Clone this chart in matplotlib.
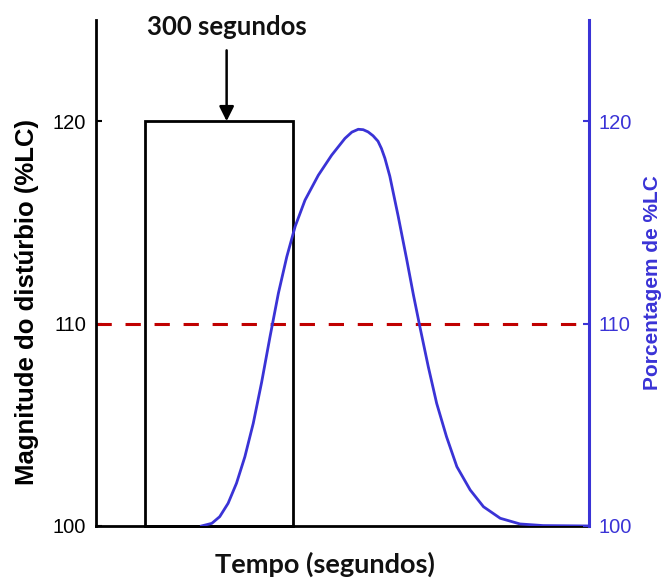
import matplotlib
matplotlib.use("Agg")
import matplotlib.pyplot as plt
from matplotlib.patches import Rectangle

plt.rcParams['font.family'] = ['Liberation Sans', 'DejaVu Sans']

# ---- dados ----
# pulso de distúrbio (s) e magnitude (%LC)
pulse_start = 100
pulse_end = 400
pulse_level = 120
baseline = 100
limit_level = 110
arrow_x = 265

# resposta (%LC) ao longo do tempo (s)
resp_t = [214, 235, 251, 268, 285, 302, 319, 336, 353, 370, 387, 404, 424, 451, 478,
          505, 519, 532, 542, 552, 562, 572, 579, 586, 596, 613, 630, 644, 657, 674, 691,
          711, 732, 759, 786, 820, 860, 907, 1000]
resp_y = [100.0, 100.13, 100.46, 101.12, 102.11, 103.42, 105.07, 107.1, 109.35, 111.5,
          113.3, 114.8, 116.10, 117.33, 118.32, 119.15, 119.46, 119.60, 119.58, 119.47,
          119.28, 119.01, 118.65, 118.17, 117.28, 115.3, 113.2, 111.4, 109.84, 107.87,
          106.06, 104.41, 102.93, 101.78, 100.95, 100.38, 100.10, 100.02, 100.0]

yticks = [100, 110, 120]
t_max = 1000
y_max = 125

BLACK = '#000000'
BLUE = '#3a33d6'
RED = '#c00000'
TITLE_FONT = 'Lato'

fig = plt.figure(figsize=(6.66, 5.81), dpi=100)
ax = fig.add_axes([0.1441, 0.0947, 0.7403, 0.8709])
ax2 = ax.twinx()

for a in (ax, ax2):
    a.set_xlim(0, t_max)
    a.set_ylim(baseline, y_max)
    a.spines['top'].set_visible(False)
    a.set_yticks(yticks)
    a.set_xticks([])

ax.spines['right'].set_visible(False)
ax2.spines['left'].set_visible(False)
ax2.spines['bottom'].set_visible(False)
for s in ('left', 'bottom'):
    ax.spines[s].set_linewidth(2)
    ax.spines[s].set_color(BLACK)
ax2.spines['right'].set_linewidth(2.2)
ax2.spines['right'].set_color(BLUE)

ax.tick_params(axis='y', direction='in', length=4, width=1.5, colors=BLACK, pad=7,
               labelsize=14.5)
ax2.tick_params(axis='y', direction='in', length=4, width=1.5, colors=BLUE, pad=7,
                labelsize=14.5)

# pulso retangular
ax.add_patch(Rectangle((pulse_start, baseline), pulse_end - pulse_start,
                       pulse_level - baseline, fill=False, edgecolor=BLACK,
                       linewidth=2, zorder=3, clip_on=False))

# limite de 110 %LC
ax.axhline(limit_level, color=RED, linestyle=(0, (5, 4.5)), linewidth=2.2, zorder=2)

# resposta
ax2.plot(resp_t, resp_y, color=BLUE, linewidth=2, zorder=4, solid_joinstyle='round')

# seta + rótulo do pulso
ax.annotate('', xy=(arrow_x, pulse_level), xytext=(arrow_x, y_max - 1.5),
            arrowprops=dict(arrowstyle='-|>', color=BLACK, lw=1.8, mutation_scale=22,
                            shrinkA=0, shrinkB=0), annotation_clip=False)
ax.text(arrow_x, y_max - 0.35, '300 segundos', ha='center', va='center',
        fontsize=18.5, fontweight='bold', family=TITLE_FONT, color='#111111')

ax.set_ylabel('Magnitude do distúrbio (%LC)', fontsize=18.5, fontweight='bold')
ax.yaxis.set_label_coords(-0.115, 0.443)
ax2.set_ylabel('Porcentagem de %LC', fontsize=15, fontweight='bold', color=BLUE)
ax2.yaxis.set_label_coords(1.11, 0.482)
ax.text(0.465, -0.075, 'Tempo (segundos)', transform=ax.transAxes, ha='center',
        va='center', fontsize=19.5, fontweight='bold', family=TITLE_FONT, color='#111111')

fig.savefig('out.png', dpi=100)
